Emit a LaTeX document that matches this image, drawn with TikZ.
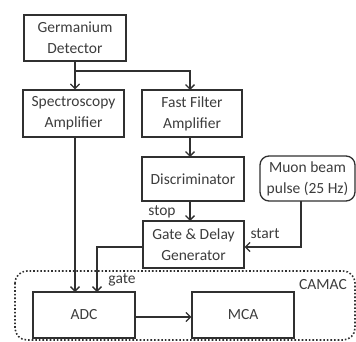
\documentclass[tikz,border=0pt]{standalone}
\usepackage{fontspec}
\setmainfont{Carlito}
\usetikzlibrary{arrows.meta}
\definecolor{ink}{HTML}{303030}
\definecolor{txt}{HTML}{3C3C3C}
\begin{document}
\begin{tikzpicture}[x=1pt,y=-1pt,
  every node/.style={font=\fontsize{15.5}{21}\selectfont, text=txt},
  box/.style={draw=ink, line width=1.3pt, align=center, inner sep=0pt},
  conn/.style={draw=ink, line width=1.3pt, -{Straight Barb[length=4.5pt,width=9pt,line width=1.3pt]}},
  lbl/.style={inner sep=1pt}]
\useasboundingbox (0,0) rectangle (356,342);
% CAMAC crate outline
\draw[ink, dotted, line width=1.6pt, rounded corners=12pt] (15,271) rectangle (355,340);
\node[lbl] (camac) at (323,285) {CAMAC};
% modules
\node[box, minimum width=102pt, minimum height=46pt] (ge) at (75,38) {Germanium\\Detector};
\node[box, minimum width=101pt, minimum height=47pt] (spec) at (73.5,113.5) {Spectroscopy\\Amplifier};
\node[box, minimum width=100pt, minimum height=47pt] (ffa) at (192,113.5) {Fast Filter\\Amplifier};
\node[box, minimum width=102pt, minimum height=44pt] (disc) at (193,179) {Discriminator};
\node[box, rounded corners=9pt, minimum width=95pt, minimum height=45pt] (muon) at (307.5,178.5) {Muon beam\\pulse (25 Hz)};
\node[box, minimum width=101pt, minimum height=47pt] (gdg) at (193.5,244.5) {Gate \& Delay\\Generator};
\node[box, minimum width=102pt, minimum height=46pt] (adc) at (84,315) {ADC};
\node[box, minimum width=102pt, minimum height=46pt] (mca) at (243,315) {MCA};
% signal paths
\coordinate (split) at (75,71);
\draw[conn] (ge.south -| split) -- (split |- spec.north);
\draw[conn] (split) -- (190,71) -- (190,90);
\draw[conn] (190,137) -- (190,157);
\draw[conn] (190,201) -- (190,221);
\node[lbl] (stop) at (162,212) {stop};
\draw[conn] (301,201) -- (301,247) -- (gdg.east |- 0,247);
\node[lbl] (start) at (265,234) {start};
\draw[conn] (gdg.west |- 0,247) -- (97,247) -- (97,292);
\node[lbl] (gate) at (122,280) {gate};
\draw[conn] (75,137) -- (75,292);
\draw[conn] (adc.east |- 0,317) -- (mca.west |- 0,317);
\end{tikzpicture}
\end{document}
